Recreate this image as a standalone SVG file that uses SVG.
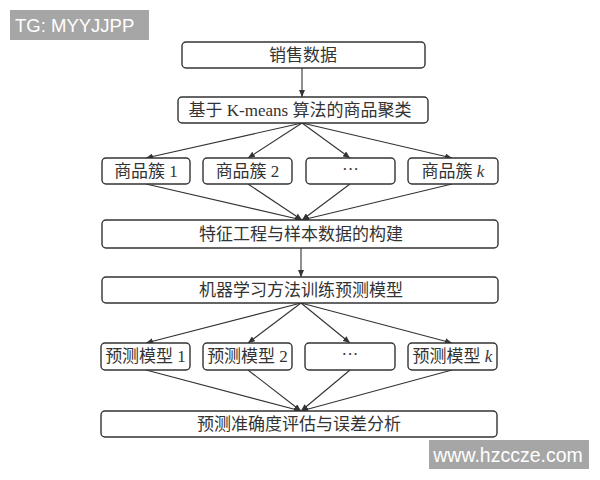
<svg xmlns="http://www.w3.org/2000/svg" width="600" height="480" viewBox="0 0 600 480">
<style>
.box{fill:#fff;stroke:#333;stroke-width:1.4}
.t{font-family:"Liberation Serif","Noto Sans CJK SC",serif;font-size:17px;fill:#333;text-anchor:middle}
.c{stroke:#333;stroke-width:1.1;fill:none;marker-end:url(#ah)}
.wm{fill:#a6a6a6}
.wt{font-family:"Liberation Sans",Arial,sans-serif;fill:#fff}
</style>
<defs>
<marker id="ah" markerUnits="userSpaceOnUse" markerWidth="8" markerHeight="6" refX="7" refY="3" orient="auto">
<path d="M0,0 L7,3 L0,6 Z" fill="#333"/>
</marker>
</defs>
<rect width="600" height="480" fill="#fff"/>
<g id="wm1"><rect class="wm" x="10" y="10" width="139" height="30"/><text class="wt" x="15" y="32" font-size="18.5">TG: MYYJJPP</text></g>
<g id="connectors">
<line class="c" x1="302" y1="68" x2="302" y2="97"/>
<line class="c" x1="302" y1="123" x2="146" y2="158"/>
<line class="c" x1="302" y1="123" x2="248" y2="158"/>
<line class="c" x1="302" y1="123" x2="350" y2="158"/>
<line class="c" x1="302" y1="123" x2="452" y2="158"/>
<line class="c" x1="146" y1="184" x2="302" y2="220"/>
<line class="c" x1="248" y1="184" x2="302" y2="220"/>
<line class="c" x1="350" y1="184" x2="302" y2="220"/>
<line class="c" x1="452" y1="184" x2="302" y2="220"/>
<line class="c" x1="301" y1="248" x2="301" y2="277"/>
<line class="c" x1="301" y1="303" x2="146" y2="343"/>
<line class="c" x1="301" y1="303" x2="248" y2="343"/>
<line class="c" x1="301" y1="303" x2="350" y2="343"/>
<line class="c" x1="301" y1="303" x2="452" y2="343"/>
<line class="c" x1="146" y1="370" x2="301" y2="411"/>
<line class="c" x1="248" y1="370" x2="301" y2="411"/>
<line class="c" x1="350" y1="370" x2="301" y2="411"/>
<line class="c" x1="452" y1="370" x2="301" y2="411"/>
</g>
<g id="n1"><rect class="box" x="182" y="42" width="243" height="26" rx="4"/><text class="t" x="303" y="61">销售数据</text></g>
<g id="n2"><rect class="box" x="178" y="97" width="250" height="26" rx="4"/><text class="t" x="300" y="116">基于 K-means 算法的商品聚类</text></g>
<g id="c1"><rect class="box" x="102" y="158" width="88" height="26" rx="4"/><text class="t" x="146" y="177">商品簇 1</text></g>
<g id="c2"><rect class="box" x="203" y="158" width="89" height="26" rx="4"/><text class="t" x="247.5" y="177">商品簇 2</text></g>
<g id="c3"><rect class="box" x="306" y="158" width="89" height="26" rx="4"/><text class="t" x="350.5" y="175">···</text></g>
<g id="ck"><rect class="box" x="408" y="158" width="90" height="26" rx="4"/><text class="t" x="453" y="177">商品簇 <tspan font-style="italic">k</tspan></text></g>
<g id="n3"><rect class="box" x="102" y="220" width="396" height="28" rx="4"/><text class="t" x="301" y="240">特征工程与样本数据的构建</text></g>
<g id="n4"><rect class="box" x="102" y="277" width="396" height="26" rx="4"/><text class="t" x="301" y="296">机器学习方法训练预测模型</text></g>
<g id="m1"><rect class="box" x="101" y="343" width="89" height="27" rx="4"/><text class="t" x="145.5" y="362">预测模型 1</text></g>
<g id="m2"><rect class="box" x="203" y="343" width="89" height="27" rx="4"/><text class="t" x="247.5" y="362">预测模型 2</text></g>
<g id="m3"><rect class="box" x="305" y="343" width="90" height="27" rx="4"/><text class="t" x="350" y="360">···</text></g>
<g id="mk"><rect class="box" x="408" y="343" width="89" height="27" rx="4"/><text class="t" x="452.5" y="362">预测模型 <tspan font-style="italic">k</tspan></text></g>
<g id="n5"><rect class="box" x="101" y="411" width="396" height="26" rx="4"/><text class="t" x="299" y="430">预测准确度评估与误差分析</text></g>
<g id="wm2"><rect class="wm" x="429" y="440" width="160" height="29"/><text class="wt" x="508" y="462" font-size="19.5" text-anchor="middle">www.hzccze.com</text></g>
</svg>
